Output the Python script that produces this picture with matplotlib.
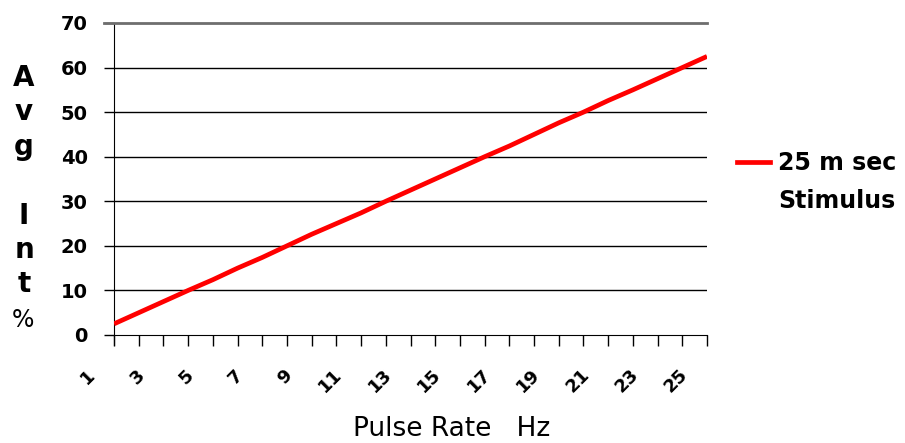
import matplotlib
matplotlib.use("Agg")
import matplotlib.pyplot as plt
from matplotlib.lines import Line2D

plt.rcParams['font.family'] = ['DejaVu Sans']

# Pulse rate (Hz) and average intensity (%)
pulse_rate = list(range(2, 27))
avg_int = [2.5, 5.0, 7.5, 10.0, 12.4, 15.0, 17.4, 20.0, 22.6, 25.0, 27.4, 30.0,
           32.5, 35.0, 37.5, 40.0, 42.4, 45.0, 47.6, 50.0, 52.6, 55.0, 57.5,
           60.0, 62.5]
x_labels = list(range(1, 26, 2))
y_ticks = list(range(0, 71, 10))
series_name = ["25 m sec", "Stimulus"]

fig = plt.figure(figsize=(9.05, 4.43), dpi=100, facecolor='white')
ax = fig.add_axes([114/905, 1 - 335/443, (707-114)/905, (335-23)/443])

ax.plot(pulse_rate, avg_int, color='#ff0000', lw=3.4, solid_capstyle='butt',
        zorder=5)

ax.set_xlim(2, 26)
ax.set_ylim(0, 70)

# y axis: gridlines and ticks
ax.set_yticks(y_ticks)
ax.set_yticklabels([str(v) for v in y_ticks], fontsize=14, fontweight='bold')
ax.tick_params(axis='y', length=7, width=1, pad=12, color='black')
for v in y_ticks[1:-1]:
    ax.axhline(v, color='black', lw=1)
ax.axhline(70, xmin=-10/593, color='#6e6e6e', lw=2, clip_on=False, zorder=3)

# x axis: tick mark for every rate, labels on odd values
ax.set_xticks(pulse_rate)
ax.set_xticklabels([])
ax.tick_params(axis='x', length=8, width=1, color='black')
for v in x_labels:
    ax.text(v + 0.12, -0.119, str(v), transform=ax.get_xaxis_transform(),
            rotation=45, rotation_mode='anchor', ha='right', va='center',
            fontsize=13, fontweight='bold', clip_on=False)

for side in ['top', 'right']:
    ax.spines[side].set_visible(False)
ax.spines['left'].set_bounds(-2.3, 70)

# axis titles
fig.text(24/905, 1 - 64/443, "A\nv\ng\n\nI\nn\nt", ha='center', va='top',
         fontsize=20, fontweight='bold', linespacing=1.29)
fig.text(23/905, 1 - 320/443, "%", ha='center', va='center', fontsize=17)
fig.text(452/905, 1 - 429/443, "Pulse Rate   Hz", ha='center', va='center',
         fontsize=19)

# legend
handles = [Line2D([], [], color='#ff0000', lw=3.4),
           Line2D([], [], color='none')]
fig.legend(handles, series_name, loc='upper left',
           bbox_to_anchor=(737/905, 1 - 151/443), frameon=False,
           prop={'size': 17, 'weight': 'bold'}, handlelength=1.4,
           handletextpad=0.33, labelspacing=0.6, borderpad=0,
           borderaxespad=0)

fig.savefig('out.png', dpi=100)
